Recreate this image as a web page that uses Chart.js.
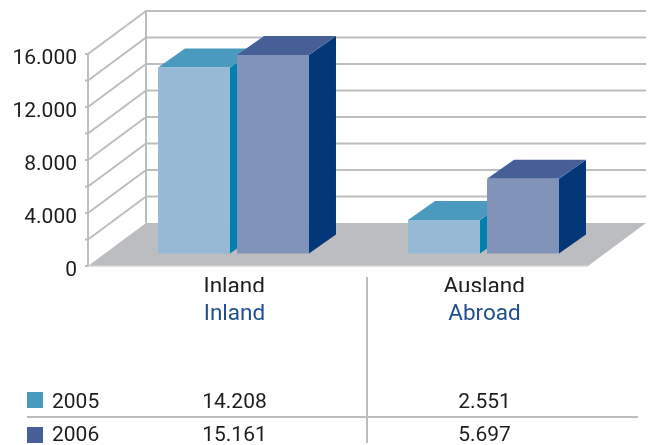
<!DOCTYPE html>
<html><head><meta charset="utf-8">
<style>html,body{margin:0;padding:0;background:#fff}canvas{display:block}</style>
<script src="https://cdn.jsdelivr.net/npm/chart.js@4"></script>
</head><body><canvas id="c" width="653" height="445"></canvas>
<script>
const categories = ['Inland', 'Ausland'];
const categoriesEn = ['Inland', 'Abroad'];
const seriesNames = ['2005', '2006'];
const values2005 = [14208, 2551];
const values2006 = [15161, 5697];
const yMin = 0, yMax = 16000, yStep = 2000;

const FONT = '21px Roboto, sans-serif';
const TEXT = '#1d1d1b', BLUE = '#1f4f8f', GREY = '#bcbdc1';
const FRONT = ['#96bad5', '#8293ba'], TOP = ['#4a9abf', '#465f97'], SIDE = ['#0080ae', '#033778'];
const fmt = v => String(v).replace(/\B(?=(\d{3})+$)/g, '.');

function poly(ctx, pts, fill) {
  ctx.beginPath();
  pts.forEach((p, i) => i ? ctx.lineTo(p[0], p[1]) : ctx.moveTo(p[0], p[1]));
  ctx.closePath(); ctx.fillStyle = fill; ctx.fill();
}
function seg(ctx, x1, y1, x2, y2) {
  ctx.beginPath(); ctx.moveTo(x1, y1); ctx.lineTo(x2, y2); ctx.stroke();
}
const box3d = {
  id: 'box3d',
  beforeDatasetsDraw(chart) {
    const ctx = chart.ctx, y = chart.scales.y;
    const fx = 88, bx = 146, dy = 43, endX = 646, fy = y.getPixelForValue(0);
    ctx.save();
    poly(ctx, [[fx, fy], [bx, fy - dy], [endX, fy - dy], [endX - 58, fy]], '#bcbdc0');
    ctx.strokeStyle = GREY; ctx.lineWidth = 2;
    y.ticks.forEach(t => {
      const p = y.getPixelForValue(t.value);
      seg(ctx, fx - 3, p, fx, p);
      if (t.value > yMin) {
        seg(ctx, fx, p, bx, p - dy);
        seg(ctx, bx, p - dy, endX, p - dy);
      }
    });
    seg(ctx, fx, fy + 1, fx, y.getPixelForValue(yMax) - 1);
    seg(ctx, bx, fy - dy, bx, y.getPixelForValue(yMax) - dy - 1);
    ctx.strokeStyle = '#d4d5d8'; ctx.lineWidth = 1.5;
    seg(ctx, fx, fy, endX - 58, fy);
    // depth faces of each bar
    const dx = 27, dz = 19;
    chart.data.datasets.forEach((ds, di) => {
      chart.getDatasetMeta(di).data.forEach(b => {
        const L = b.x - b.width / 2, R = b.x + b.width / 2, T = b.y, B = b.base;
        poly(ctx, [[R, T], [R + dx, T - dz], [R + dx, B - dz], [R, B]], SIDE[di]);
        poly(ctx, [[L, T], [L + dx, T - dz], [R + dx, T - dz], [R, T]], TOP[di]);
      });
    });
    ctx.restore();
  },
  afterDraw(chart) {
    const ctx = chart.ctx, x = chart.scales.x;
    ctx.save();
    ctx.strokeStyle = GREY; ctx.lineWidth = 2;
    seg(ctx, 367, 277, 367, 443);
    seg(ctx, 27, 417, 638, 417);
    ctx.font = FONT; ctx.textBaseline = 'alphabetic';
    [[values2005, 407.5, 392], [values2006, 441, 427]].forEach((row, i) => {
      ctx.fillStyle = TOP[i];
      ctx.fillRect(27, row[2], 16, 16);
      ctx.fillStyle = TEXT; ctx.textAlign = 'left';
      ctx.fillText(seriesNames[i], 52, row[1]);
      ctx.textAlign = 'center';
      row[0].forEach((v, j) => ctx.fillText(fmt(v), x.getPixelForValue(j) + 1, row[1]));
    });
    ctx.restore();
  }
};

new Chart(document.getElementById('c'), {
  type: 'bar',
  data: {
    labels: categories,
    datasets: [
      { label: seriesNames[0], data: values2005, backgroundColor: FRONT[0], xAxisID: 'x', yAxisID: 'yBars', clip: false },
      { label: seriesNames[1], data: values2006, backgroundColor: FRONT[1], xAxisID: 'x', yAxisID: 'yBars', clip: false }
    ]
  },
  plugins: [box3d],
  options: {
    responsive: false, animation: false,
    layout: { padding: { left: 0, top: 54, right: 44.5, bottom: 109 } },
    categoryPercentage: 0.632, barPercentage: 0.911,
    plugins: { legend: { display: false }, tooltip: { enabled: false } },
    scales: {
      x: {
        type: 'category', position: 'bottom', labels: categories, weight: 1,
        grid: { display: false, drawTicks: false }, border: { display: false },
        ticks: { font: { family: 'Roboto', size: 22.5 }, color: TEXT, padding: 8, labelOffset: 0.7, maxRotation: 0 },
        afterFit(s) { s.height = 26; }
      },
      xEn: {
        type: 'category', position: 'bottom', labels: categoriesEn, weight: 2,
        grid: { display: false, drawTicks: false }, border: { display: false },
        ticks: { font: { family: 'Roboto', size: 22.5 }, color: BLUE, padding: 9, labelOffset: 1, maxRotation: 0 },
        afterFit(s) { s.height = 44; }
      },
      y: {
        position: 'left', min: yMin, max: yMax,
        grid: { display: false, drawTicks: false }, border: { display: false },
        ticks: {
          stepSize: yStep, autoSkip: false, padding: 31.5, color: TEXT, labelOffset: 4.5,
          font: { family: 'Roboto', size: 21 },
          callback: v => (v % (2 * yStep) === 0 ? fmt(v) : '')
        },
        afterFit(s) { s.width = 108.5; }
      },
      yBars: { display: false, position: 'left', min: -954, max: 15229 }
    }
  }
});
</script></body></html>
